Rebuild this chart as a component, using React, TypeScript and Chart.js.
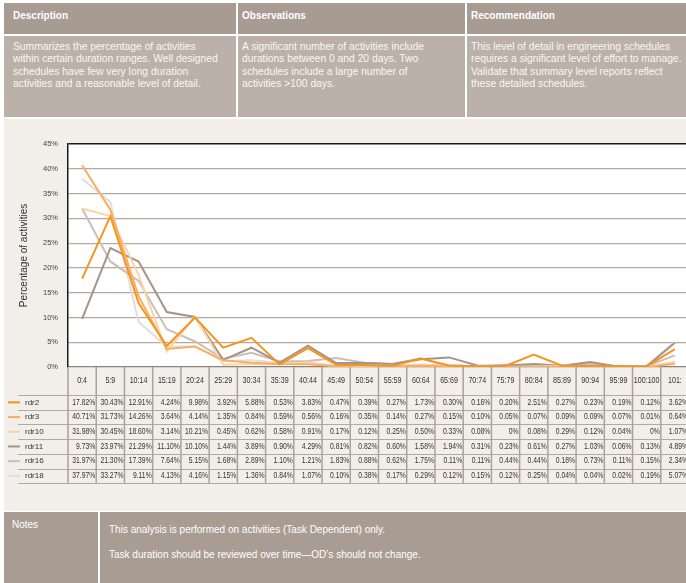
import React, { useEffect, useRef } from "react";
import { Chart, registerables } from "chart.js";
Chart.register(...registerables);

const categories = ["0:4","5:9","10:14","15:19","20:24","25:29","30:34","35:39","40:44","45:49","50:54","55:59","60:64","65:69","70:74","75:79","80:84","85:89","90:94","95:99","100:100","101:"];
const seriesNames = ["rdr2","rdr3","rdr10","rdr11","rdr16","rdr18"];
const rdr2 = [17.82,30.43,12.91,4.24,9.98,3.92,5.88,0.53,3.83,0.47,0.39,0.27,1.73,0.30,0.16,0.20,2.51,0.27,0.23,0.19,0.12,3.62];
const rdr3 = [40.71,31.73,14.26,3.64,4.14,1.35,0.84,0.59,0.56,0.16,0.35,0.14,0.27,0.15,0.10,0.05,0.07,0.09,0.09,0.07,0.01,0.64];
const rdr10 = [31.98,30.45,18.60,3.14,10.21,0.45,0.62,0.58,0.91,0.17,0.12,0.25,0.50,0.33,0.08,0,0.08,0.29,0.12,0.04,0,1.07];
const rdr11 = [9.73,23.97,21.29,11.10,10.10,1.44,3.89,0.90,4.29,0.81,0.82,0.60,1.58,1.94,0.31,0.23,0.61,0.27,1.03,0.06,0.13,4.89];
const rdr16 = [31.97,21.30,17.39,7.64,5.15,1.68,2.89,1.10,1.21,1.83,0.88,0.62,1.75,0.11,0.11,0.44,0.44,0.18,0.73,0.11,0.15,2.34];
const rdr18 = [37.97,33.27,9.11,4.13,4.16,1.15,1.36,0.84,1.07,0.10,0.38,0.17,0.29,0.12,0.15,0.12,0.25,0.04,0.04,0.02,0.19,5.07];
const seriesValues = [rdr2, rdr3, rdr10, rdr11, rdr16, rdr18];
const seriesColors = ["#f7941d", "#fbad60", "#fdd4a6", "#a39589", "#c9c0b8", "#e3ded9"];
const yMax = 45;
const yStep = 5;
const yTitle = "Percentage of activities";

const headerTitles = ["Description", "Observations", "Recommendation"];
const headerBodies = [
  ["Summarizes the percentage of activities", "within certain duration ranges. Well designed", "schedules have few very long duration", "activities and a reasonable level of detail."],
  ["A significant number of activities include", "durations between 0 and 20 days. Two", "schedules include a large number of", "activities >100 days."],
  ["This level of detail in engineering schedules", "requires a significant level of effort to manage.", "Validate that summary level reports reflect", "these detailed schedules."],
];
const notesTitle = "Notes";
const notesLines = ["This analysis is performed on activities (Task Dependent) only.", "Task duration should be reviewed over time\u2014OD\u2019s should not change."];

const FONT = '"Liberation Sans", Arial, Helvetica, sans-serif';

function fmt(v: number) {
  return v === 0 ? "0%" : v.toFixed(2) + "%";
}

function drawCondensed(ctx: CanvasRenderingContext2D, text: string, x: number, y: number, align: CanvasTextAlign, sx: number) {
  ctx.save();
  ctx.translate(x, y);
  ctx.scale(sx, 1);
  ctx.textAlign = align;
  ctx.fillText(text, 0, 0);
  ctx.restore();
}

const tablePlugin = {
  id: "tablePlugin",
  beforeDraw(chart: any) {
    const { ctx, chartArea } = chart;
    ctx.save();
    ctx.fillStyle = "#ffffff";
    ctx.fillRect(chartArea.left, chartArea.top, chartArea.right - chartArea.left, chartArea.bottom - chartArea.top);
    ctx.restore();
  },
  afterDraw(chart: any) {
    const { ctx, chartArea } = chart;
    const x = chart.scales.x;
    const n = categories.length;
    const colW = x.getPixelForValue(1) - x.getPixelForValue(0);
    const edge = (i: number) => x.getPixelForValue(i) - colW / 2;
    const top = chartArea.bottom;
    const headerH = 28;
    const rowH = 14.7;
    const tableBottom = top + headerH + seriesNames.length * rowH;
    ctx.save();
    ctx.strokeStyle = "#b3a99f";
    ctx.lineWidth = 1;
    for (let k = 0; k <= seriesNames.length; k++) {
      const yy = Math.round(top + headerH + k * rowH) + 0.5;
      ctx.beginPath();
      ctx.moveTo(14, yy);
      ctx.lineTo(chart.width, yy);
      ctx.stroke();
    }
    ctx.strokeStyle = "#aca197";
    ctx.lineWidth = 1.5;
    for (let i = 0; i <= n; i++) {
      const xx = edge(i);
      ctx.beginPath();
      ctx.moveTo(xx, top);
      ctx.lineTo(xx, tableBottom);
      ctx.stroke();
    }
    ctx.fillStyle = "#333333";
    ctx.textBaseline = "middle";
    ctx.font = "8.2px " + FONT;
    for (let i = 0; i < n; i++) {
      drawCondensed(ctx, categories[i], x.getPixelForValue(i), top + headerH / 2, "center", 0.87);
    }
    for (let r = 0; r < seriesNames.length; r++) {
      const cy = top + headerH + r * rowH + rowH / 2;
      ctx.strokeStyle = seriesColors[r];
      ctx.lineWidth = 2;
      ctx.beginPath();
      ctx.moveTo(4, cy);
      ctx.lineTo(16, cy);
      ctx.stroke();
      ctx.fillStyle = "#333333";
      ctx.font = "8px " + FONT;
      ctx.textAlign = "left";
      ctx.fillText(seriesNames[r], 21, cy);
      ctx.font = "8.2px " + FONT;
      for (let i = 0; i < n; i++) {
        drawCondensed(ctx, fmt(seriesValues[r][i]), edge(i + 1) - 1, cy, "right", 0.83);
      }
    }
    ctx.restore();
  },
};

function ChartBox() {
  const ref = useRef<HTMLCanvasElement | null>(null);
  useEffect(() => {
    if (!ref.current) return;
    const chart = new Chart(ref.current, {
      type: "line",
      data: {
        labels: categories,
        datasets: seriesNames.map((name, i) => ({
          label: name,
          data: seriesValues[i],
          borderColor: seriesColors[i],
          backgroundColor: seriesColors[i],
          borderWidth: 2,
          pointRadius: 0,
          tension: 0,
          fill: false,
        })),
      },
      options: {
        responsive: false,
        animation: false,
        devicePixelRatio: 1,
        layout: { padding: { top: 24, bottom: 143, left: 0, right: 0 } },
        plugins: { legend: { display: false }, tooltip: { enabled: false } },
        scales: {
          x: {
            offset: true,
            grid: { display: false, drawTicks: false },
            border: { display: false },
            ticks: { display: false },
            afterFit: (s: any) => { s.height = 0; },
          },
          y: {
            min: 0,
            max: yMax,
            ticks: {
              stepSize: yStep,
              padding: 10,
              color: "#444",
              font: { size: 7.5, family: FONT },
              callback: (v: any) => v + "%",
            },
            grid: {
              drawTicks: false,
              color: (c: any) => (c.tick && c.tick.value === yMax ? "#1a1a1a" : c.tick && c.tick.value === 0 ? "#8f847b" : "#b3a99f"),
              lineWidth: (c: any) => (c.tick && c.tick.value === yMax ? 1.5 : 1.2),
            },
            border: { display: true, color: "#1a1a1a", width: 1.5 },
            title: {
              display: true,
              text: yTitle,
              color: "#333",
              font: { size: 10, family: FONT },
              padding: { top: 14.5, bottom: 0 },
            },
            afterFit: (s: any) => { s.width = 64; },
          },
        },
      },
      plugins: [tablePlugin],
    });
    return () => chart.destroy();
  }, []);
  return <canvas ref={ref} width={685} height={390} style={{ position: "absolute", left: 0, top: 1, width: 685, height: 390 }} />;
}

export default function App() {
  const cellX = [4, 238, 467];
  const cellW = [232, 227, 219];
  const textX = [13, 242, 471];
  return (
    <div style={{ position: "fixed", left: 0, top: 0, width: 686, height: 583, overflow: "hidden", background: "#ffffff", fontFamily: FONT }}>
      {headerTitles.map((t, i) => (
        <div key={"h" + i} style={{ position: "absolute", left: cellX[i], top: 3, width: cellW[i], height: 31, background: "#a89c92" }}>
          <div style={{ position: "absolute", left: textX[i] - cellX[i], top: 7, fontSize: 10, lineHeight: "12px", color: "#ffffff", fontWeight: "bold", whiteSpace: "nowrap" }}>{t}</div>
        </div>
      ))}
      {headerBodies.map((lines, i) => (
        <div key={"b" + i} style={{ position: "absolute", left: cellX[i], top: 36, width: cellW[i], height: 81, background: "#bcb1a8" }}>
          <div style={{ position: "absolute", left: textX[i] - cellX[i], top: 5, fontSize: 10.3, lineHeight: "12.4px", color: "#faf7f3", whiteSpace: "nowrap" }}>
            {lines.map((l, k) => (<div key={k}>{l}</div>))}
          </div>
        </div>
      ))}
      <div style={{ position: "absolute", left: 4, top: 119, width: 682, height: 392, background: "#f2eeea", overflow: "hidden" }}>
        <ChartBox />
      </div>
      <div style={{ position: "absolute", left: 4, top: 512, width: 94, height: 71, background: "#a99d93" }}>
        <div style={{ position: "absolute", left: 8, top: 7, fontSize: 10, lineHeight: "12px", color: "#ffffff" }}>{notesTitle}</div>
      </div>
      <div style={{ position: "absolute", left: 100, top: 512, width: 586, height: 71, background: "#a99d93" }}>
        {notesLines.map((l, k) => (
          <div key={k} style={{ position: "absolute", left: 9, top: 12 + k * 25, fontSize: 10, lineHeight: "12px", color: "#ffffff", whiteSpace: "nowrap" }}>{l}</div>
        ))}
      </div>
    </div>
  );
}
